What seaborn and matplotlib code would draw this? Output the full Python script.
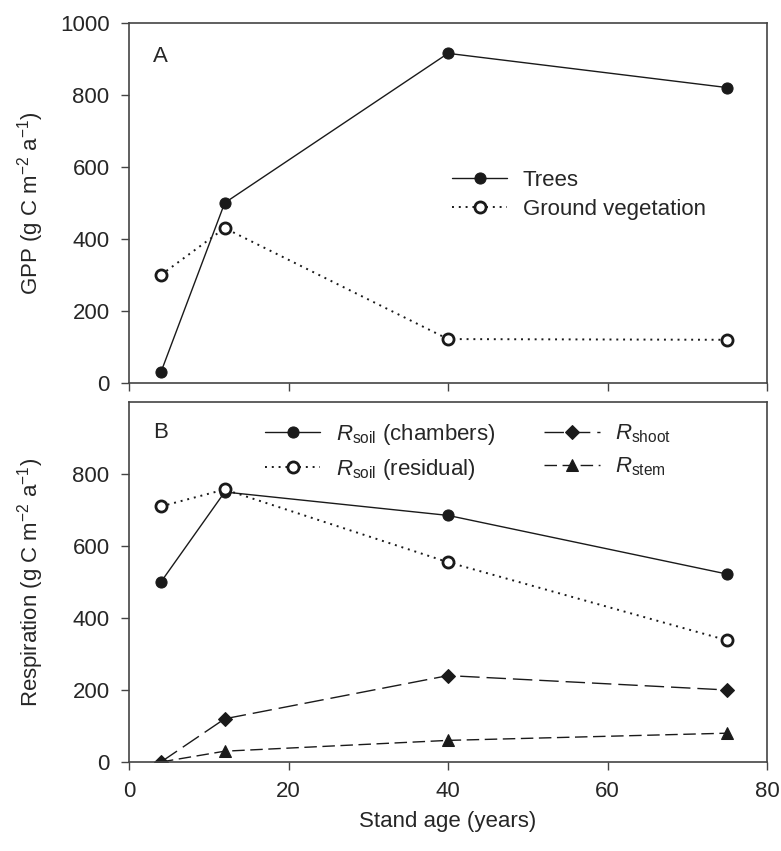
import matplotlib
matplotlib.use('Agg')
import matplotlib.pyplot as plt
import numpy as np
import pandas as pd
import seaborn as sns

# stand age (years)
age = [4, 12, 40, 75]

# panel A: GPP
gpp_trees = [30, 500, 915, 820]
gpp_ground = [300, 430, 122, 120]

# panel B: respiration
r_soil_chambers = [500, 750, 685, 522]
r_soil_residual = [710, 757, 555, 338]
r_shoot = [0, 120, 240, 200]
r_stem = [0, 30, 60, 80]

sns.set_theme(style='ticks')
plt.rcParams['font.family'] = ['Liberation Sans', 'DejaVu Sans']
plt.rcParams['mathtext.fontset'] = 'custom'
plt.rcParams['mathtext.rm'] = 'Liberation Sans'
plt.rcParams['mathtext.it'] = 'Liberation Sans:italic'

font_size = 16
frame_color = '#444444'

fig = plt.figure(figsize=(7.81, 8.51), dpi=100)
ax1 = fig.add_axes([0.1652, 0.5499, 0.8169, 0.4234])
ax2 = fig.add_axes([0.1652, 0.1046, 0.8169, 0.4230])

df_a = pd.DataFrame({'age': age, 'trees': gpp_trees, 'ground': gpp_ground})
df_b = pd.DataFrame({'age': age, 'chambers': r_soil_chambers, 'residual': r_soil_residual,
                     'shoot': r_shoot, 'stem': r_stem})

ms = 8
dotted = (0, (1, 2.5))
sns.lineplot(data=df_a, x='age', y='trees', ax=ax1, color='k', lw=1, marker='o',
             markersize=ms, markeredgecolor='k', label='Trees')
sns.lineplot(data=df_a, x='age', y='ground', ax=ax1, color='k', lw=1.4, ls=dotted,
             marker='o', markersize=ms, markerfacecolor='white', markeredgecolor='k',
             markeredgewidth=2, label='Ground vegetation')

sns.lineplot(data=df_b, x='age', y='chambers', ax=ax2, color='k', lw=1, marker='o',
             markersize=ms, markeredgecolor='k', label=r'$R_{\mathrm{soil}}$ (chambers)')
sns.lineplot(data=df_b, x='age', y='residual', ax=ax2, color='k', lw=1.4, ls=dotted,
             marker='o', markersize=ms, markerfacecolor='white', markeredgecolor='k',
             markeredgewidth=2, label=r'$R_{\mathrm{soil}}$ (residual)')
sns.lineplot(data=df_b, x='age', y='shoot', ax=ax2, color='k', lw=1, ls=(0, (14, 5)),
             marker='D', markersize=7, markeredgecolor='k', label=r'$R_{\mathrm{shoot}}$')
sns.lineplot(data=df_b, x='age', y='stem', ax=ax2, color='k', lw=1, ls=(0, (9, 4)),
             marker='^', markersize=8, markeredgecolor='k', label=r'$R_{\mathrm{stem}}$')

for ax in (ax1, ax2):
    ax.set_xlim(0, 80)
    ax.set_ylim(0, 1000)
    ax.set_xticks([0, 20, 40, 60, 80])
    ax.tick_params(axis='both', labelsize=font_size, direction='out', length=6,
                   width=1, color=frame_color, pad=8)
    for sp in ax.spines.values():
        sp.set_visible(True)
        sp.set_color(frame_color)
        sp.set_linewidth(1.2)

ax1.set_yticks([0, 200, 400, 600, 800, 1000])
ax1.set_xticklabels([])
ax1.set_xlabel('')
ax1.set_ylabel(r'GPP (g C m$^{-2}$ a$^{-1}$)', fontsize=font_size)

ax2.set_yticks([0, 200, 400, 600, 800])
ax2.set_xlabel('Stand age (years)', fontsize=font_size, labelpad=6)
ax2.set_ylabel(r'Respiration (g C m$^{-2}$ a$^{-1}$)', fontsize=font_size)

ax1.yaxis.set_label_coords(-0.13, 0.5)
ax2.yaxis.set_label_coords(-0.13, 0.5)

ax1.text(0.038, 0.905, 'A', transform=ax1.transAxes, fontsize=font_size, va='center')
ax2.text(0.038, 0.914, 'B', transform=ax2.transAxes, fontsize=font_size, va='center')

ax1.legend(loc='upper left', bbox_to_anchor=(0.506, 0.592), frameon=False,
           fontsize=font_size, handlelength=2.5, handletextpad=0.7, labelspacing=0.35,
           borderpad=0, borderaxespad=0)
ax2.legend(loc='upper left', bbox_to_anchor=(0.213, 0.945), ncol=2, frameon=False,
           fontsize=font_size, handlelength=2.5, handletextpad=0.7, labelspacing=0.45,
           columnspacing=2.2, borderpad=0, borderaxespad=0)

fig.savefig('out.png', dpi=100)
plt.close(fig)
